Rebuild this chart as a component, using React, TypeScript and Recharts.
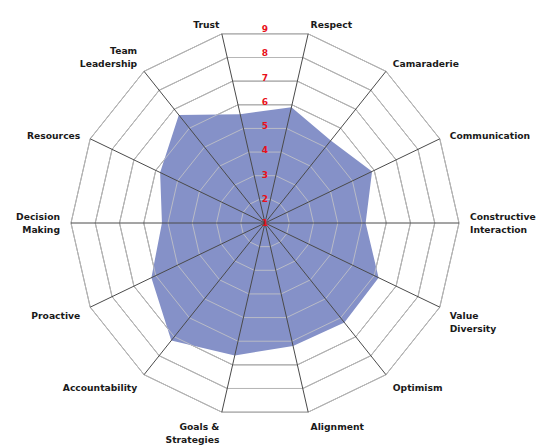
import React from "react";
import {
  RadarChart,
  Radar,
  PolarGrid,
  PolarAngleAxis,
  PolarRadiusAxis,
} from "recharts";

const subjects = [
  "Trust",
  "Respect",
  "Camaraderie",
  "Communication",
  "Constructive\nInteraction",
  "Value\nDiversity",
  "Optimism",
  "Alignment",
  "Goals &\nStrategies",
  "Accountability",
  "Proactive",
  "Decision\nMaking",
  "Resources",
  "Team\nLeadership",
];

const scores = [5.6, 5.9, 5.35, 5.9, 5.15, 6.2, 6.25, 6.2, 6.6, 7.2, 6.2, 5.25, 5.8, 6.7];

const radiusTicks = [1, 2, 3, 4, 5, 6, 7, 8, 9];

const data = subjects.map((s, i) => ({ subject: s, value: scores[i] }));

const W = 538;
const H = 445;
const CX = 265;
const CY = 223;
const R = 194;
const START = 90 + 180 / subjects.length;

const AngleTick = (props: any) => {
  const { payload } = props;
  const angle = payload.coordinate as number;
  const rad = (angle * Math.PI) / 180;
  const cos = Math.cos(rad);
  const sin = Math.sin(rad);
  const d = R + 11;
  const x = CX + d * cos;
  const y = CY - d * sin;
  const lines = String(payload.value).split("\n");
  const lh = 13;
  let anchor: "start" | "end" | "middle" = "middle";
  if (cos > 0.05) anchor = "start";
  else if (cos < -0.05) anchor = "end";
  let firstY: number;
  if (sin > 0.1) firstY = y + 1 - (lines.length - 1) * lh;
  else if (sin < -0.1) firstY = y + 4;
  else firstY = y - ((lines.length - 1) * lh) / 2;
  return (
    <text
      x={x}
      y={firstY}
      textAnchor={anchor}
      fontFamily="DejaVu Sans, sans-serif"
      fontWeight="bold"
      fontSize={9.2}
      fill="#1a1a1a"
    >
      {lines.map((l, i) => (
        <tspan key={i} x={x} y={firstY + i * lh} dominantBaseline="central">
          {l}
        </tspan>
      ))}
    </text>
  );
};

const RadiusTick = (props: any) => {
  const { x, y, payload } = props;
  return (
    <text
      x={x}
      y={y}
      textAnchor="middle"
      dominantBaseline="central"
      fontFamily="DejaVu Sans, sans-serif"
      fontWeight="bold"
      fontSize={9}
      fill="#e8101a"
    >
      {payload.value}
    </text>
  );
};

export default function App() {
  return (
    <div style={{ position: "absolute", left: 0, top: 0, width: W, height: H, background: "#fff" }}>
      <RadarChart
        width={W}
        height={H}
        data={data}
        cx={CX}
        cy={CY}
        outerRadius={R}
        startAngle={START}
        endAngle={START - 360}
        margin={{ top: 0, right: 0, bottom: 0, left: 0 }}
      >
        <PolarGrid gridType="polygon" stroke="#7a7a7a" strokeWidth={1} radialLines={false} />
        <PolarAngleAxis dataKey="subject" tick={<AngleTick />} tickLine={false} axisLine={false} />
        <PolarRadiusAxis
          angle={90}
          domain={[1, 9]}
          ticks={radiusTicks as any}
          tickCount={9}
          axisLine={false}
          tickLine={false}
          tick={<RadiusTick />}
          zIndex={900 as any}
        />
        <PolarRadiusAxis
          radiusAxisId="h0"
          angle={0}
          domain={[1, 9]}
          tick={false}
          tickLine={false}
          axisLine={{ stroke: "#8c8c8c", strokeWidth: 2 }}
          zIndex={750 as any}
        />
        <PolarRadiusAxis
          radiusAxisId="h180"
          angle={180}
          domain={[1, 9]}
          tick={false}
          tickLine={false}
          axisLine={{ stroke: "#8c8c8c", strokeWidth: 2 }}
          zIndex={750 as any}
        />
        <Radar
          dataKey="value"
          fill="#8591c8"
          fillOpacity={1}
          stroke="none"
          isAnimationActive={false}
        />
        <PolarGrid
          gridType="polygon"
          stroke="#c6c6c6"
          strokeOpacity={0.8}
          radialLines={false}
          zIndex={700 as any}
        />
        <PolarGrid
          gridType="polygon"
          stroke="#4a4a4a"
          polarRadius={[]}
          radialLines={true}
          zIndex={800 as any}
        />
      </RadarChart>
    </div>
  );
}
